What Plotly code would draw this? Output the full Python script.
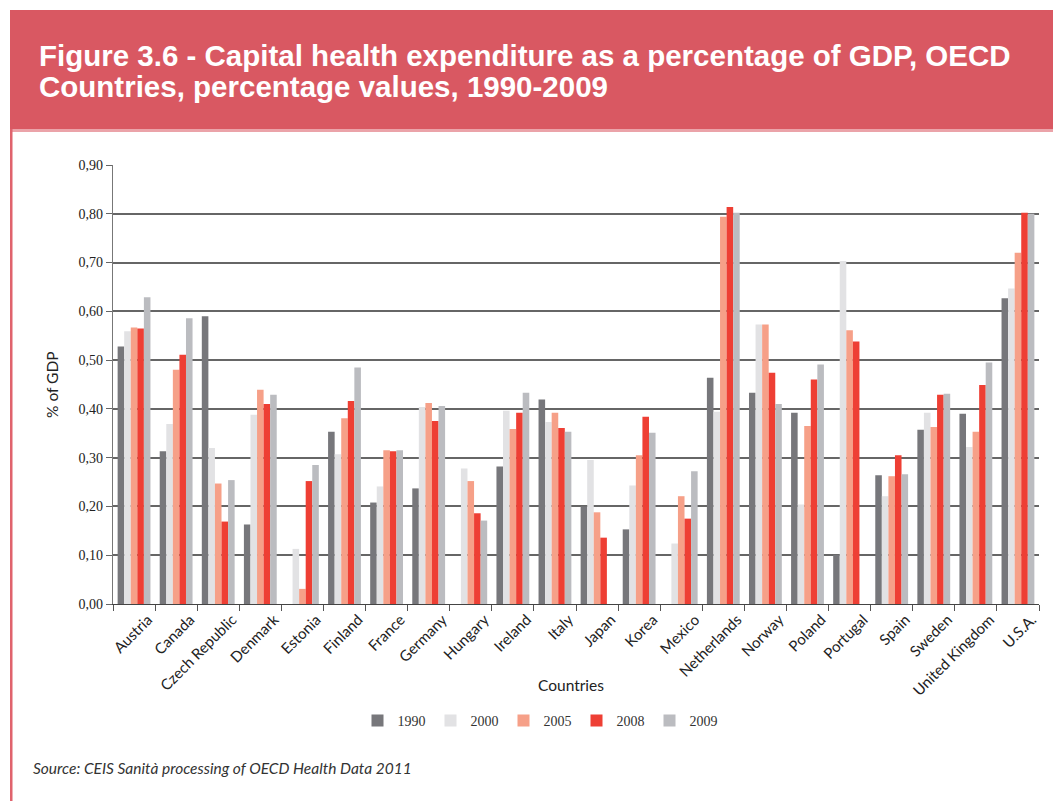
import plotly.graph_objects as go

# Capital health expenditure as % of GDP, OECD countries
countries = ["Austria", "Canada", "Czech Republic", "Denmark", "Estonia", "Finland",
             "France", "Germany", "Hungary", "Ireland", "Italy", "Japan", "Korea",
             "Mexico", "Netherlands", "Norway", "Poland", "Portugal", "Spain",
             "Sweden", "United Kingdom", "U.S.A."]

years = ["1990", "2000", "2005", "2008", "2009"]

v1990 = [0.528, 0.313, 0.590, 0.163, None, 0.353, 0.208, 0.237, None, 0.282, 0.419,
         0.200, 0.153, None, 0.464, 0.433, 0.392, 0.101, 0.264, 0.357, 0.390, 0.627]
v2000 = [0.559, 0.369, 0.320, 0.388, 0.113, 0.307, 0.241, 0.404, 0.278, 0.396, 0.373,
         0.295, 0.243, 0.124, 0.394, 0.573, 0.204, 0.703, 0.221, 0.392, 0.322, 0.647]
v2005 = [0.567, 0.480, 0.247, 0.439, 0.031, 0.381, 0.315, 0.412, 0.252, 0.359, 0.392,
         0.188, 0.305, 0.221, 0.794, 0.573, 0.365, 0.561, 0.262, 0.363, 0.353, 0.720]
v2008 = [0.565, 0.511, 0.169, 0.410, 0.252, 0.416, 0.313, 0.375, 0.186, 0.392, 0.361,
         0.136, 0.384, 0.175, 0.814, 0.474, 0.460, 0.538, 0.305, 0.429, 0.449, 0.802]
v2009 = [0.629, 0.586, 0.254, 0.429, 0.285, 0.485, 0.315, 0.406, 0.171, 0.433, 0.353,
         None, 0.351, 0.272, 0.802, 0.410, 0.491, None, 0.266, 0.431, 0.495, 0.800]

series = [v1990, v2000, v2005, v2008, v2009]
colors = ["#77777b", "#e2e2e4", "#f6a088", "#ee3f34", "#bbbcc0"]

y_ticks = [0.0, 0.1, 0.2, 0.3, 0.4, 0.5, 0.6, 0.7, 0.8, 0.9]

W, H = 1053, 801
ML, MR, MT, MB = 113, 14, 165, 197
PW, PH = W - ML - MR, H - MT - MB


def px(x):
    return (x - ML) / PW


def py(y):
    return (H - MB - y) / PH


SANS = "Lato, 'Open Sans', sans-serif"
SERIF = "'Liberation Serif', 'DejaVu Serif', serif"
TITLE_FONT = "'Liberation Sans', Arial, sans-serif"
BAND = "#d95862"

fig = go.Figure()
for name, vals, col in zip(years, series, colors):
    fig.add_trace(go.Bar(x=countries, y=vals, name=name, marker_color=col,
                         marker_line_width=0))

fig.update_layout(
    width=W, height=H,
    margin=dict(l=ML, r=MR, t=MT, b=MB, autoexpand=False),
    paper_bgcolor="white", plot_bgcolor="white",
    barmode="group", bargap=0.22, bargroupgap=0,
    separators=",.",
    showlegend=True,
    legend=dict(orientation="h", x=px(540), xanchor="center", y=py(721), yanchor="middle",
                font=dict(family=SERIF, size=14, color="#333333"),
                itemwidth=30, tracegroupgap=0, itemclick=False),
    xaxis=dict(
        type="category", tickson="boundaries", ticks="outside", ticklen=6,
        tickcolor="#555555", showline=True, linecolor="#444444", linewidth=1.2,
        showgrid=False, tickangle=-45, ticklabelshift=14,
        tickfont=dict(family=SANS, size=15, color="#222222"),
        range=[-0.5, len(countries) - 0.5],
    ),
    yaxis=dict(
        range=[0, 0.9], tickvals=y_ticks, tickformat=".2f", ticks="outside",
        ticklen=6, tickcolor="#666666", showline=True, linecolor="#777777",
        linewidth=1.2, showgrid=True, gridcolor="#666666", gridwidth=1.6,
        zeroline=False, tickfont=dict(family=SERIF, size=14, color="#222222"),
    ),
    shapes=[
        dict(type="rect", xref="paper", yref="paper", x0=px(10), x1=px(W), y0=py(129),
             y1=py(10), fillcolor=BAND, line_width=0, layer="below"),
        dict(type="rect", xref="paper", yref="paper", x0=px(10), x1=px(W), y0=py(132),
             y1=py(129), fillcolor="#eba3a9", line_width=0, layer="below"),
        dict(type="rect", xref="paper", yref="paper", x0=px(10), x1=px(12.5), y0=py(H),
             y1=py(129), fillcolor="#e0636d", line_width=0, layer="below"),
    ],
    annotations=[
        dict(text="<b>Figure 3.6 - Capital health expenditure as a percentage of GDP, OECD</b>",
             xref="paper", yref="paper", x=px(37), y=py(55), xanchor="left",
             yanchor="middle", showarrow=False,
             font=dict(family=TITLE_FONT, size=29.5, color="white")),
        dict(text="<b>Countries, percentage values, 1990-2009</b>",
             xref="paper", yref="paper", x=px(37), y=py(87), xanchor="left",
             yanchor="middle", showarrow=False,
             font=dict(family=TITLE_FONT, size=29.5, color="white")),
        dict(text="% of GDP", xref="paper", yref="paper", x=px(52), y=py(385),
             xanchor="center", yanchor="middle", textangle=-90, showarrow=False,
             font=dict(family=SANS, size=15.5, color="#222222")),
        dict(text="Countries", xref="paper", yref="paper", x=px(571), y=py(685),
             xanchor="center", yanchor="middle", showarrow=False,
             font=dict(family=SANS, size=15.5, color="#222222")),
        dict(text="<i>Source: CEIS Sanità processing of OECD Health Data 2011</i>",
             xref="paper", yref="paper", x=px(31), y=py(768), xanchor="left",
             yanchor="middle", showarrow=False,
             font=dict(family=SANS, size=15.5, color="#333333")),
    ],
)

fig.write_html("out.html")
